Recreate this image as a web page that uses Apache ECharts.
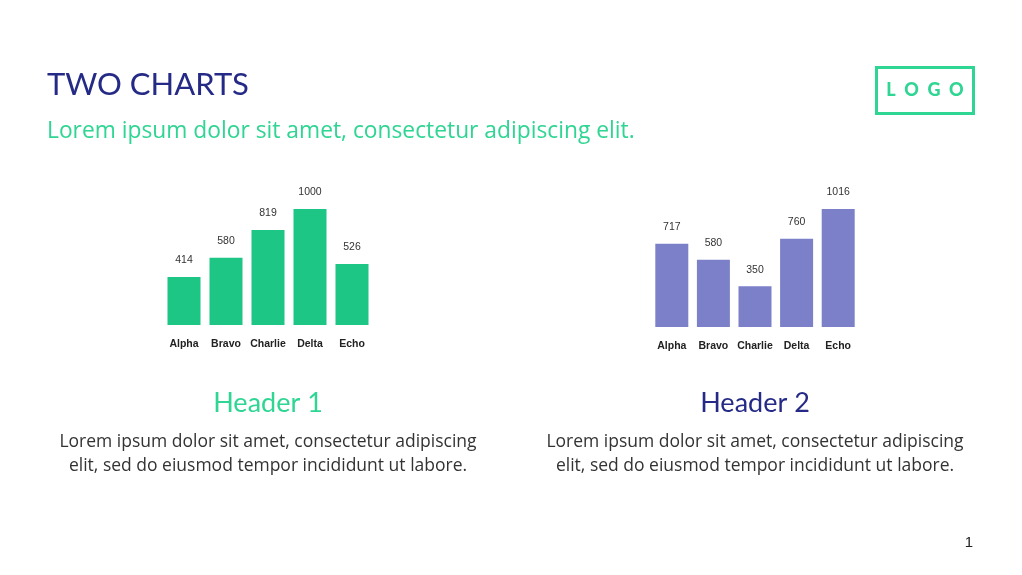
<!DOCTYPE html>
<html>
<head>
<meta charset="utf-8">
<script src="https://cdn.jsdelivr.net/npm/echarts@6/dist/echarts.min.js"></script>
<style>
html,body{margin:0;padding:0;background:#fff;}
#c{width:1022px;height:575px;}
</style>
</head>
<body>
<div id="c"></div>
<script>
const categories = ['Alpha', 'Bravo', 'Charlie', 'Delta', 'Echo'];
const values1 = [414, 580, 819, 1000, 526];
const values2 = [717, 580, 350, 760, 1016];

const GREEN = '#1ec685';
const PURPLE = '#7b80c8';
const NAVY = '#252a86';
const LIGHTGREEN = '#2fd592';
const TEXT = '#333333';
const MAIN = 'Lato, "Open Sans", sans-serif';
const BODY = '"Open Sans", Lato, sans-serif';
const SMALL = '"Liberation Sans", sans-serif';

const chart = echarts.init(document.getElementById('c'), null, {renderer: 'canvas'});

function xAxisCfg(gridIndex) {
  return {
    type: 'category', gridIndex, data: categories,
    axisLine: {show: false}, axisTick: {show: false},
    axisLabel: {interval: 0, fontFamily: SMALL, fontWeight: 'bold', fontSize: 10.5, color: '#222', margin: 14}
  };
}
function yAxisCfg(gridIndex, max) {
  return {type: 'value', gridIndex, min: 0, max, show: false, splitLine: {show: false}};
}
function seriesCfg(i, data, color) {
  return {
    type: 'bar', xAxisIndex: i, yAxisIndex: i, data, barWidth: 33,
    itemStyle: {color},
    label: {show: true, position: 'top', distance: 11, fontFamily: SMALL, fontSize: 10.5, color: TEXT},
    silent: true, animation: false
  };
}

chart.setOption({
  animation: false,
  grid: [
    {left: 163, width: 210, top: 209, height: 116},
    {left: 651, width: 208, top: 209, height: 118}
  ],
  xAxis: [xAxisCfg(0), xAxisCfg(1)],
  yAxis: [yAxisCfg(0, 1000), yAxisCfg(1, 1016)],
  series: [seriesCfg(0, values1, GREEN), seriesCfg(1, values2, PURPLE)],
  graphic: [
    {type: 'text', left: 47, top: 69, style: {text: 'TWO CHARTS', fontFamily: MAIN, fontSize: 31, fill: NAVY}},
    {type: 'text', left: 47, top: 120, style: {text: 'Lorem ipsum dolor sit amet, consectetur adipiscing elit.', fontFamily: BODY, fontSize: 22.8, fill: LIGHTGREEN}},
    {type: 'rect', shape: {x: 876.5, y: 67.5, width: 97, height: 46}, style: {fill: 'none', stroke: LIGHTGREEN, lineWidth: 3}},
    {type: 'text', x: 925, y: 90, style: {text: 'L  O  G  O', fontFamily: 'Lato, sans-serif', fontWeight: 900, fontSize: 18, fill: LIGHTGREEN, align: 'center', verticalAlign: 'middle'}},
    {type: 'text', x: 268, y: 403, style: {text: 'Header 1', fontFamily: MAIN, fontSize: 27, fill: LIGHTGREEN, align: 'center', verticalAlign: 'middle'}},
    {type: 'text', x: 755, y: 403, style: {text: 'Header 2', fontFamily: MAIN, fontSize: 27, fill: NAVY, align: 'center', verticalAlign: 'middle'}},
    {type: 'text', x: 268, y: 454, style: {text: 'Lorem ipsum dolor sit amet, consectetur adipiscing\nelit, sed do eiusmod tempor incididunt ut labore.', fontFamily: BODY, fontSize: 17.5, lineHeight: 24, fill: TEXT, align: 'center', verticalAlign: 'middle'}},
    {type: 'text', x: 755, y: 454, style: {text: 'Lorem ipsum dolor sit amet, consectetur adipiscing\nelit, sed do eiusmod tempor incididunt ut labore.', fontFamily: BODY, fontSize: 17.5, lineHeight: 24, fill: TEXT, align: 'center', verticalAlign: 'middle'}},
    {type: 'text', x: 969, y: 543, style: {text: '1', fontFamily: SMALL, fontSize: 15, fill: '#222', align: 'center', verticalAlign: 'middle'}}
  ]
});
</script>
</body>
</html>
